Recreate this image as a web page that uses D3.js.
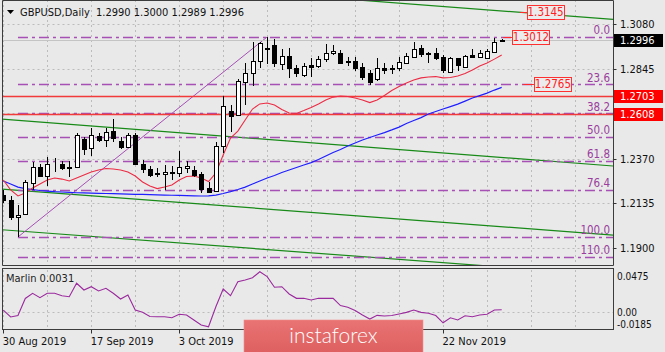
<!DOCTYPE html>
<html>
<head>
<meta charset="utf-8">
<script src="https://cdnjs.cloudflare.com/ajax/libs/d3/7.8.5/d3.min.js"></script>
<style>
	body { margin: 0; background: #e9e9e9; }
	svg { display: block; font-family: "DejaVu Sans Condensed", "DejaVu Sans", sans-serif; }
</style>
</head>
<body>
<svg id="chart" width="665" height="352"></svg>
<script>
const symbolTitle = 'GBPUSD,Daily  1.2990 1.3000 1.2989 1.2996';

const dates = ['2019-08-30','2019-09-02','2019-09-03','2019-09-04','2019-09-05','2019-09-06','2019-09-09','2019-09-10','2019-09-11','2019-09-12',
	'2019-09-13','2019-09-16','2019-09-17','2019-09-18','2019-09-19','2019-09-20','2019-09-23','2019-09-24','2019-09-25','2019-09-26',
	'2019-09-27','2019-09-30','2019-10-01','2019-10-02','2019-10-03','2019-10-04','2019-10-07','2019-10-08','2019-10-09','2019-10-10',
	'2019-10-11','2019-10-14','2019-10-15','2019-10-16','2019-10-17','2019-10-18','2019-10-21','2019-10-22','2019-10-23','2019-10-24',
	'2019-10-25','2019-10-28','2019-10-29','2019-10-30','2019-10-31','2019-11-01','2019-11-04','2019-11-05','2019-11-06','2019-11-07',
	'2019-11-08','2019-11-11','2019-11-12','2019-11-13','2019-11-14','2019-11-15','2019-11-18','2019-11-19','2019-11-20','2019-11-21',
	'2019-11-22','2019-11-25','2019-11-26','2019-11-27','2019-11-28','2019-11-29','2019-12-02','2019-12-03','2019-12-04'];

const opens = [1.2179,1.2153,1.2062,1.2079,1.2244,1.2325,1.2279,1.2341,1.2342,1.2328,
	1.2328,1.2473,1.2425,1.2490,1.2469,1.2518,1.2465,1.2430,1.2495,1.2342,
	1.2314,1.2293,1.2290,1.2295,1.2297,1.2320,1.2311,1.2290,1.2214,1.2202,
	1.2437,1.2622,1.2601,1.2776,1.2823,1.2885,1.2947,1.2969,1.2869,1.2911,
	1.2847,1.2811,1.2862,1.2861,1.2893,1.2926,1.2927,1.2885,1.2885,1.2853,
	1.2822,1.2788,1.2847,1.2847,1.2847,1.2873,1.2904,1.2951,1.2926,1.2926,
	1.2908,1.2829,1.2899,1.2855,1.2917,1.2905,1.2902,1.2934,1.2990];
const highs = [1.2205,1.2174,1.2126,1.2258,1.2351,1.2342,1.2381,1.2376,1.2360,1.2360,
	1.2504,1.2483,1.2530,1.2507,1.2530,1.2578,1.2486,1.2504,1.2504,1.2363,
	1.2332,1.2320,1.2337,1.2332,1.2413,1.2360,1.2332,1.2302,1.2249,1.2460,
	1.2701,1.2653,1.2789,1.2877,1.2987,1.2987,1.3012,1.2999,1.2947,1.2952,
	1.2864,1.2875,1.2899,1.2914,1.2977,1.2969,1.2943,1.2908,1.2904,1.2877,
	1.2838,1.2899,1.2872,1.2864,1.2904,1.2925,1.2985,1.2969,1.2934,1.2955,
	1.2917,1.2908,1.2902,1.2917,1.2948,1.2943,1.2948,1.3008,1.3000];
const lows = [1.2137,1.2047,1.1958,1.2075,1.2205,1.2275,1.2226,1.2302,1.2311,1.2275,
	1.2325,1.2390,1.2386,1.2460,1.2430,1.2460,1.2420,1.2425,1.2337,1.2293,
	1.2275,1.2272,1.2205,1.2258,1.2275,1.2293,1.2275,1.2188,1.2188,1.2196,
	1.2399,1.2513,1.2595,1.2653,1.2753,1.2846,1.2869,1.2853,1.2838,1.2793,
	1.2802,1.2801,1.2802,1.2847,1.2881,1.2917,1.2868,1.2861,1.2835,1.2785,
	1.2761,1.2780,1.2814,1.2817,1.2835,1.2867,1.2899,1.2904,1.2873,1.2890,
	1.2820,1.2820,1.2832,1.2850,1.2899,1.2902,1.2899,1.2931,1.2989];
const closes = [1.2153,1.2063,1.2075,1.2249,1.2325,1.2279,1.2342,1.2344,1.2320,1.2323,
	1.2495,1.2420,1.2495,1.2469,1.2513,1.2478,1.2430,1.2495,1.2342,1.2314,
	1.2284,1.2288,1.2300,1.2299,1.2328,1.2332,1.2284,1.2209,1.2196,1.2437,
	1.2648,1.2595,1.2781,1.2823,1.2887,1.2978,1.2952,1.2875,1.2911,1.2847,
	1.2822,1.2859,1.2855,1.2898,1.2929,1.2939,1.2877,1.2880,1.2848,1.2801,
	1.2772,1.2847,1.2838,1.2844,1.2880,1.2909,1.2949,1.2922,1.2920,1.2902,
	1.2838,1.2899,1.2864,1.2913,1.2908,1.2929,1.2938,1.2987,1.2996];

const fastMa = [1.2258,1.2206,1.2174,1.2190,1.2216,1.2237,1.2258,1.2269,1.2263,1.2253,
	1.2269,1.2285,1.2300,1.2311,1.2319,1.2316,1.2311,1.2300,1.2279,1.2248,
	1.2227,1.2213,1.2221,1.2232,1.2258,1.2277,1.2279,1.2269,1.2250,1.2295,
	1.2390,1.2479,1.2516,1.2574,1.2632,1.2659,1.2664,1.2653,1.2630,1.2611,
	1.2609,1.2624,1.2640,1.2659,1.2680,1.2695,1.2701,1.2698,1.2690,1.2680,
	1.2666,1.2680,1.2703,1.2730,1.2751,1.2769,1.2785,1.2796,1.2801,1.2803,
	1.2796,1.2798,1.2806,1.2819,1.2838,1.2859,1.2874,1.2895,1.2917];
const slowMa = [1.2253,1.2237,1.2221,1.2213,1.2208,1.2203,1.2200,1.2197,1.2195,1.2193,
	1.2191,1.2190,1.2189,1.2188,1.2187,1.2186,1.2185,1.2184,1.2183,1.2182,
	1.2181,1.2180,1.2179,1.2178,1.2177,1.2176,1.2175,1.2174,1.2175,1.2179,
	1.2187,1.2197,1.2208,1.2221,1.2237,1.2253,1.2269,1.2282,1.2298,1.2311,
	1.2324,1.2337,1.2350,1.2366,1.2385,1.2403,1.2419,1.2437,1.2453,1.2469,
	1.2482,1.2495,1.2508,1.2522,1.2537,1.2556,1.2572,1.2587,1.2606,1.2619,
	1.2632,1.2645,1.2658,1.2674,1.2690,1.2703,1.2716,1.2732,1.2746];

const marlin = [0.0028,-0.0065,-0.0045,0.0182,0.0251,0.0192,0.0251,0.0251,0.0219,0.0206,
	0.0385,0.0295,0.0339,0.0282,0.0318,0.0251,0.0175,0.0228,0.0028,-0.0003,
	-0.0059,-0.0061,-0.0061,-0.0075,-0.0029,-0.0039,-0.0105,-0.0172,-0.0195,0.0072,
	0.0308,0.0219,0.0406,0.0429,0.0459,0.0539,0.0473,0.0331,0.0339,0.0242,
	0.0184,0.0184,0.0162,0.0184,0.0184,0.0184,0.0088,0.0064,0.0021,-0.0039,
	-0.0092,-0.0043,-0.0052,-0.0045,-0.0025,-0.0003,0.0028,-0.0003,-0.0016,-0.0045,
	-0.0142,-0.0075,-0.0105,-0.0048,-0.0061,-0.0039,-0.0029,0.0028,0.0031];
const marlinTicks = [0.0475, 0.00, -0.0185];
const marlinTickLabels = ['0.0475', '0.00', '-0.0185'];

const priceTicks = [1.3080, 1.2845, 1.2610, 1.2370, 1.2135, 1.1900];
const priceTickLabels = ['1.3080', '1.2845', '', '1.2370', '1.2135', '1.1900'];
const currentPrice = 1.2996;
const redLevels = [1.2703, 1.2608];

const fiboLow = 1.1958, fiboHigh = 1.3012;
const fiboBars = [2, 36];
const fiboLevels = [0, 23.6, 38.2, 50, 61.8, 76.4, 100, 110];
const fiboLabels = ['0.0', '23.6', '38.2', '50.0', '61.8', '76.4', '100.0', '110.0'];

const channelBars = [-0.45, 83.19];
const channelStart = [1.3350, 1.2580, 1.2211, 1.1997];
const channelEnd = [1.3104, 1.2332, 1.1968, 1.1756];

const markerPrices = [1.3145, 1.3012, 1.2765];
const markerLabels = ['1.3145', '1.3012', '1.2765'];

const ChartView = {
	main: { left: 2.5, right: 613.5, top: 0.5, bottom: 266 },
	sub: { top: 268.5, bottom: 329.5 },
	logo: { x: 244, y: 320, width: 179 },
	markerLine: [[70.5, 71.4], [68.2, 69.4], [70.9, 72.4]],
	gridColor: '#bcbcbc',
	fiboColor: '#a64fb4',
	svg: null, xScale: null, yScale: null, mScale: null,
	mainGroup: null, subGroup: null,

	init: function() {
		const self = this;
		let svg = d3.select('#chart');

		self.svg = svg;
		self.xScale = d3.scaleLinear()
			.domain([ 0, dates.length - 1 ])
			.range([ 3.3, 501.7 ]);
		self.yScale = d3.scaleLinear()
			.domain([ 1.1900, 1.3080 ])
			.range([ 248, 24 ]);
		self.mScale = d3.scaleLinear()
			.domain([ -0.0185, 0.0475 ])
			.range([ 326, 276.5 ]);

		let defs = svg.append('defs');
		defs.append('clipPath').attr('id', 'clip-main').append('rect')
			.attr('x', self.main.left).attr('y', 0)
			.attr('width', self.main.right - self.main.left).attr('height', self.main.bottom);
		defs.append('clipPath').attr('id', 'clip-sub').append('rect')
			.attr('x', self.main.left).attr('y', self.sub.top)
			.attr('width', self.main.right - self.main.left).attr('height', self.sub.bottom - self.sub.top);

		svg.append('rect').attr('width', 665).attr('height', 352).style('fill', '#e9e9e9');
		self.mainGroup = svg.append('g').attr('clip-path', 'url(#clip-main)');
		self.subGroup = svg.append('g').attr('clip-path', 'url(#clip-sub)');

		self.drawGrid();
		self.drawChannels();
		self.drawFibo();
		self.drawLevels();
		self.drawMovingAverages();
		self.drawCandles();
		self.drawMarkers();
		self.drawIndicator();
		self.drawFrame();
		self.drawPriceAxis();
		self.drawDateAxis();
		self.drawTitle();
		self.drawLogo();
	},

	// main window

	drawGrid: function() {
		const self = this;
		let xScale = self.xScale;
		let yScale = self.yScale;
		let gridBars = d3.range(0, 90, 6).filter(function(i) { return xScale(i) < self.main.right; });

		self.mainGroup.selectAll('.h-grid')
			.data(priceTicks)
			.enter().append('line')
			.attr('class', 'h-grid')
			.attr('x1', self.main.left).attr('x2', self.main.right)
			.attr('y1', function(d) { return Math.round(yScale(d)) + 0.5; })
			.attr('y2', function(d) { return Math.round(yScale(d)) + 0.5; })
			.style('stroke', self.gridColor)
			.style('stroke-dasharray', '2,3');

		[ self.mainGroup, self.subGroup ].forEach(function(g) {
			g.selectAll('.v-grid')
				.data(gridBars)
				.enter().append('line')
				.attr('class', 'v-grid')
				.attr('x1', function(d) { return Math.round(xScale(d)) + 0.5; })
				.attr('x2', function(d) { return Math.round(xScale(d)) + 0.5; })
				.attr('y1', 0).attr('y2', 340)
				.style('stroke', self.gridColor)
				.style('stroke-dasharray', '2,3');
		});
	},
	drawChannels: function() {
		const self = this;
		let xScale = self.xScale;
		let yScale = self.yScale;

		self.mainGroup.selectAll('.channel')
			.data(d3.zip(channelStart, channelEnd))
			.enter().append('line')
			.attr('class', 'channel')
			.attr('x1', xScale(channelBars[0]))
			.attr('x2', xScale(channelBars[1]))
			.attr('y1', function(d) { return yScale(d[0]); })
			.attr('y2', function(d) { return yScale(d[1]); })
			.style('stroke', '#188a18')
			.style('stroke-width', 1.2);
	},
	drawFibo: function() {
		const self = this;
		let xScale = self.xScale;
		let yScale = self.yScale;
		let range = fiboHigh - fiboLow;

		self.mainGroup.append('line')
			.attr('x1', xScale(fiboBars[0])).attr('y1', yScale(fiboLow))
			.attr('x2', xScale(fiboBars[1])).attr('y2', yScale(fiboHigh))
			.style('stroke', self.fiboColor)
			.style('stroke-width', 1);

		let levels = self.mainGroup.selectAll('.fibo')
			.data(fiboLevels)
			.enter().append('g')
			.attr('class', 'fibo');
		levels.append('line')
			.attr('x1', xScale(fiboBars[0])).attr('x2', self.main.right)
			.attr('y1', function(d) { return Math.round(yScale(fiboHigh - range * d / 100)) + 0.5; })
			.attr('y2', function(d) { return Math.round(yScale(fiboHigh - range * d / 100)) + 0.5; })
			.style('stroke', self.fiboColor)
			.style('stroke-width', 1.6)
			.style('stroke-dasharray', '10,4,3,4');
		levels.append('text')
			.attr('x', 610)
			.attr('y', function(d) { return yScale(fiboHigh - range * d / 100) - 2.5; })
			.style('text-anchor', 'end')
			.style('font-size', '11.5px')
			.style('fill', '#9a3d9e')
			.text(function(d, i) { return fiboLabels[i]; });
	},
	drawLevels: function() {
		const self = this;
		let yScale = self.yScale;

		self.mainGroup.append('line')
			.attr('x1', self.main.left).attr('x2', self.main.right)
			.attr('y1', Math.round(yScale(currentPrice)) + 0.5)
			.attr('y2', Math.round(yScale(currentPrice)) + 0.5)
			.style('stroke', '#c4c4c4');

		self.mainGroup.selectAll('.red-level')
			.data(redLevels)
			.enter().append('line')
			.attr('class', 'red-level')
			.attr('x1', self.main.left).attr('x2', self.main.right)
			.attr('y1', function(d) { return Math.round(yScale(d)) + 0.5; })
			.attr('y2', function(d) { return Math.round(yScale(d)) + 0.5; })
			.style('stroke', '#f23a3a')
			.style('stroke-width', 1.4);
	},
	drawMovingAverages: function() {
		const self = this;
		let xScale = self.xScale;
		let yScale = self.yScale;
		let line = d3.line()
			.x(function(d, i) { return xScale(i); })
			.y(function(d) { return yScale(d); });

		self.mainGroup.append('path')
			.attr('d', line(slowMa))
			.style('fill', 'none')
			.style('stroke', '#1f1fff')
			.style('stroke-width', 1.2);
		self.mainGroup.append('path')
			.attr('d', line(fastMa))
			.style('fill', 'none')
			.style('stroke', '#ec2c44')
			.style('stroke-width', 1.1);
	},
	drawCandles: function() {
		const self = this;
		let xScale = self.xScale;
		let yScale = self.yScale;
		let bars = dates.map(function(d, i) {
			return { date: d, o: opens[i], h: highs[i], l: lows[i], c: closes[i], i: i };
		});

		let candles = self.mainGroup.selectAll('.candle')
			.data(bars)
			.enter().append('g')
			.attr('class', 'candle')
			.style('shape-rendering', 'crispEdges');
		candles.append('line')
			.attr('x1', function(d) { return Math.round(xScale(d.i)) + 0.5; })
			.attr('x2', function(d) { return Math.round(xScale(d.i)) + 0.5; })
			.attr('y1', function(d) { return Math.round(yScale(d.h)); })
			.attr('y2', function(d) { return Math.round(yScale(d.l)); })
			.style('stroke', '#000');
		candles.append('rect')
			.attr('x', function(d) { return Math.round(xScale(d.i)) - 1.5; })
			.attr('y', function(d) { return Math.round(yScale(Math.max(d.o, d.c))) + 0.5; })
			.attr('width', 4)
			.attr('height', function(d) {
				return Math.max(0, Math.round(yScale(Math.min(d.o, d.c))) - Math.round(yScale(Math.max(d.o, d.c))));
			})
			.style('fill', function(d) { return d.c >= d.o ? '#fff' : '#000'; })
			.style('stroke', '#000');
	},
	drawMarkers: function() {
		const self = this;
		let xScale = self.xScale;
		let yScale = self.yScale;

		let markers = self.mainGroup.selectAll('.marker')
			.data(markerPrices)
			.enter().append('g')
			.attr('class', 'marker');
		markers.append('line')
			.attr('x1', function(d, i) { return xScale(self.markerLine[i][0]); })
			.attr('x2', function(d, i) { return xScale(self.markerLine[i][1]); })
			.attr('y1', function(d) { return Math.round(yScale(d)) + 0.5; })
			.attr('y2', function(d) { return Math.round(yScale(d)) + 0.5; })
			.style('stroke', '#ff2a2a');
		markers.append('rect')
			.attr('x', function(d, i) { return Math.round(xScale(self.markerLine[i][1])) + 0.5; })
			.attr('y', function(d) { return Math.round(yScale(d)) - 6.5; })
			.attr('width', 37).attr('height', 14)
			.style('fill', '#ececec')
			.style('stroke', '#ff3030');
		markers.append('text')
			.attr('x', function(d, i) { return xScale(self.markerLine[i][1]) + 19; })
			.attr('y', function(d) { return yScale(d) + 4.5; })
			.style('text-anchor', 'middle')
			.style('font-size', '11.5px')
			.style('fill', '#ff2020')
			.text(function(d, i) { return markerLabels[i]; });
	},

	// indicator window

	drawIndicator: function() {
		const self = this;
		let xScale = self.xScale;
		let mScale = self.mScale;
		let line = d3.line()
			.x(function(d, i) { return xScale(i); })
			.y(function(d) { return mScale(d); });

		self.subGroup.append('line')
			.attr('x1', self.main.left).attr('x2', self.main.right)
			.attr('y1', Math.round(mScale(0)) + 0.5).attr('y2', Math.round(mScale(0)) + 0.5)
			.style('stroke', self.gridColor)
			.style('stroke-dasharray', '2,3');
		self.subGroup.append('path')
			.attr('d', line(marlin))
			.style('fill', 'none')
			.style('stroke', '#9b2a9e')
			.style('stroke-width', 1.1);
		self.svg.append('text')
			.attr('x', 6).attr('y', 282)
			.style('font-size', '11px')
			.style('fill', '#222')
			.text('Marlin ' + d3.format('.4f')(marlin[marlin.length - 1]));
	},

	// frame and axes

	drawFrame: function() {
		const self = this;
		let m = self.main;

		self.svg.append('path')
			.attr('d', 'M' + m.left + ',' + m.top + 'V' + (m.bottom - 0.5) + 'H' + m.right + 'V' + m.top + 'H' + m.left)
			.style('fill', 'none')
			.style('stroke', '#3c3c3c');
		self.svg.append('rect')
			.attr('x', m.left).attr('y', self.sub.top)
			.attr('width', m.right - m.left).attr('height', self.sub.bottom - self.sub.top)
			.style('fill', 'none')
			.style('stroke', '#3c3c3c');
	},
	drawPriceAxis: function() {
		const self = this;
		let yScale = self.yScale;
		let mScale = self.mScale;
		let axis = self.svg.append('g').style('font-size', '11px');

		axis.selectAll('.p-tick')
			.data(priceTicks)
			.enter().append('line')
			.attr('x1', self.main.right).attr('x2', self.main.right + 3)
			.attr('y1', function(d) { return Math.round(yScale(d)) + 0.5; })
			.attr('y2', function(d) { return Math.round(yScale(d)) + 0.5; })
			.style('stroke', '#333');
		axis.selectAll('.p-label')
			.data(priceTicks)
			.enter().append('text')
			.attr('x', 620)
			.attr('y', function(d) { return yScale(d) + 4; })
			.style('fill', '#111')
			.text(function(d, i) { return priceTickLabels[i]; });

		let boxes = [ { v: currentPrice, fill: '#000' } ].concat(redLevels.map(function(v) { return { v: v, fill: '#ff0000' }; }));
		boxes.forEach(function(b) {
			axis.append('rect')
				.attr('x', 614).attr('y', Math.round(yScale(b.v)) - 6)
				.attr('width', 49).attr('height', 13)
				.style('fill', b.fill);
			axis.append('text')
				.attr('x', 620).attr('y', yScale(b.v) + 4)
				.style('fill', '#fff')
				.text(d3.format('.4f')(b.v));
		});

		// the lowest label is pushed up to stay inside the window, as the terminal does
		axis.selectAll('.m-label')
			.data(marlinTicks)
			.enter().append('text')
			.attr('x', 617)
			.attr('y', function(d, i) { return i == 2 ? 327.5 : mScale(d) + 3.5; })
			.style('font-size', '10px')
			.style('fill', '#111')
			.text(function(d, i) { return marlinTickLabels[i]; });
	},
	drawDateAxis: function() {
		const self = this;
		let xScale = self.xScale;
		let logo = self.logo;
		let parse = d3.timeParse('%Y-%m-%d');
		let format = d3.timeFormat('%-d %b %Y');
		let labelBars = d3.range(0, dates.length, 12);

		let ticks = self.svg.selectAll('.date')
			.data(labelBars)
			.enter().append('g')
			.attr('class', 'date');
		ticks.append('line')
			.attr('x1', function(d) { return Math.round(xScale(d)) + 0.5; })
			.attr('x2', function(d) { return Math.round(xScale(d)) + 0.5; })
			.attr('y1', self.sub.bottom).attr('y2', self.sub.bottom + 4)
			.style('stroke', '#333');
		// labels that fall under the logo are hidden there, so they are left out
		ticks.filter(function(d) { return xScale(d) < logo.x || xScale(d) > logo.x + logo.width; })
			.append('text')
			.attr('x', function(d) { return xScale(d) - 0.5; })
			.attr('y', 345)
			.style('font-size', '11px')
			.style('fill', '#111')
			.text(function(d) { return format(parse(dates[d])); });
	},
	drawTitle: function() {
		const self = this;

		self.svg.append('path')
			.attr('d', 'M7,10L14,10L10.5,14Z')
			.style('fill', '#000');
		self.svg.append('text')
			.attr('x', 20).attr('y', 16)
			.style('font-size', '11px')
			.style('fill', '#111')
			.style('white-space', 'pre')
			.text(symbolTitle);
	},
	drawLogo: function() {
		const self = this;
		let logo = self.logo;
		let grad = self.svg.select('defs').append('linearGradient')
			.attr('id', 'logo-grad')
			.attr('x1', 0).attr('x2', 0).attr('y1', 0).attr('y2', 1);
		grad.append('stop').attr('offset', 0).attr('stop-color', '#e97373');
		grad.append('stop').attr('offset', 1).attr('stop-color', '#de5f5f');

		self.svg.append('rect')
			.attr('x', logo.x).attr('y', logo.y)
			.attr('width', logo.width).attr('height', 34)
			.style('fill', 'url(#logo-grad)')
			.style('stroke', '#f09090')
			.style('stroke-width', 0.6);
		self.svg.append('text')
			.attr('x', logo.x + logo.width / 2).attr('y', 343)
			.style('text-anchor', 'middle')
			.style('font-family', 'Lato, "Open Sans", sans-serif')
			.style('font-weight', 300)
			.style('font-size', '21px')
			.style('fill', '#fff')
			.text('instaforex');
	}
}

ChartView.init();
</script>
</body>
</html>
